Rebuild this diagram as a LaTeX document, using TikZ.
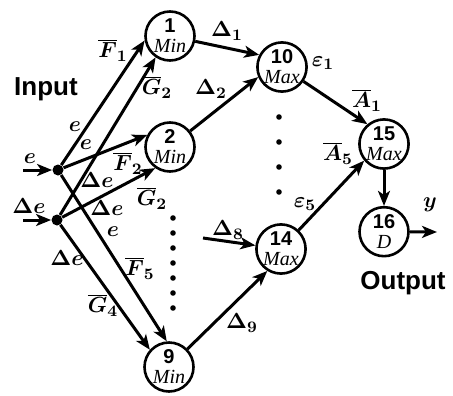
\documentclass[tikz,border=0pt]{standalone}
\usepackage{fontspec}
\setmainfont{Liberation Serif}
\setsansfont{Liberation Sans}
\usetikzlibrary{arrows.meta,positioning}

\begin{document}
\begin{tikzpicture}[
  x=0.5pt, y=-0.5pt,
  font=\boldmath\fontsize{11}{12}\selectfont,
  node distance=20pt,
  gate/.style={
    circle,
    draw,
    line width=1.3pt,
    minimum size=24.5pt,
    inner sep=0pt,
    align=center,
    font=\fontsize{10}{10}\selectfont
  },
  junction/.style={circle, fill, inner sep=0pt, minimum size=5.5pt},
  dotmark/.style={circle, fill, inner sep=0pt, minimum size=2.8pt},
  title/.style={font=\sffamily\bfseries\fontsize{13}{15}\selectfont},
  arrow/.style={-{Stealth[length=7.5pt,width=6pt,inset=2pt]}, line width=1.5pt}
]
  \useasboundingbox (0,0) rectangle (453,395);

  \node[gate] (n1) at (170,36) {\textsf{\bfseries 1}\\\textit{Min}};
  \node[gate] (n2) at (170,147) {\textsf{\bfseries 2}\\\textit{Min}};
  \node[gate] (n9) at (169,367) {\textsf{\bfseries 9}\\\textit{Min}};
  \node[gate] (n10) at (282,67) {\textsf{\bfseries 10}\\\textit{Max}};
  \node[gate] (n14) at (281,249) {\textsf{\bfseries 14}\\\textit{Max}};
  \node[gate] (n15) at (384,144) {\textsf{\bfseries 15}\\\textit{Max}};
  \node[gate, below=18pt of n15.south, anchor=north] (n16) {\textsf{\bfseries 16}\\\textit{D}};

  \node[junction] (ej) at (58,170) {};
  \node[junction] (dj) at (57,220) {};
  \coordinate (ein) at (23,170);
  \coordinate (din) at (23,220);
  \coordinate (d8in) at (203,238);
  \coordinate (yout) at (437,232);

  \node[title] (input) at (46,89) {Input};
  \node[title] (output) at (403,283) {Output};

  \foreach \y in {218,233,...,310} \node[dotmark] (da\y) at (173,\y) {};
  \foreach \y in {117,142,167,192} \node[dotmark] (db\y) at (279,\y) {};

  \draw[arrow] (ein) -- (ej);
  \draw[arrow] (din) -- (dj);
  \draw[arrow] (ej) -- (n1.190);
  \draw[arrow] (dj) -- (n1.236);
  \draw[arrow] (ej) -- (n2.152);
  \draw[arrow] (dj) -- (n2.235);
  \draw[arrow] (ej) -- (n9.95);
  \draw[arrow] (dj) -- (n9.138);
  \draw[arrow] (n1) -- (n10.152);
  \draw[arrow] (n2) -- (n10.203);
  \draw[arrow] (n9) -- (n14.238);
  \draw[arrow] (d8in) -- (n14.172);
  \draw[arrow] (n10) -- (n15.130);
  \draw[arrow] (n14) -- (n15.220);
  \draw[arrow] (n15) -- (n16);
  \draw[arrow] (n16) -- (yout);

  \node (le) at (30,159) {$e$};
  \node (lde) at (29,206) {$\Delta e$};
  \node (lF1) at (113,50) {$\overline{F}_1$};
  \node (lG2a) at (157,87) {$\overline{G}_2$};
  \node (le1) at (75,127) {$e$};
  \node (le2) at (86,145) {$e$};
  \node (lF2) at (128,163) {$\overline{F}_2$};
  \node (lde1) at (97,180) {$\Delta e$};
  \node (lG2b) at (152,198) {$\overline{G}_2$};
  \node (lde2) at (107,208) {$\Delta e$};
  \node (le3) at (113,232) {$e$};
  \node (lF5) at (140,268) {$\overline{F}_5$};
  \node (lde3) at (67,258) {$\Delta e$};
  \node (lG4) at (103,305) {$\overline{G}_4$};
  \node (lD1) at (227,31) {$\Delta_1$};
  \node (lD2) at (211,89) {$\Delta_2$};
  \node (leps1) at (323,63) {$\varepsilon_1$};
  \node (lA1) at (367,100) {$\overline{A}_1$};
  \node (lA5) at (338,153) {$\overline{A}_5$};
  \node (leps5) at (305,204) {$\varepsilon_5$};
  \node (lD8) at (228,230) {$\Delta_8$};
  \node (lD9) at (242,323) {$\Delta_9$};
  \node (ly) at (430,205) {$y$};
\end{tikzpicture}
\end{document}
